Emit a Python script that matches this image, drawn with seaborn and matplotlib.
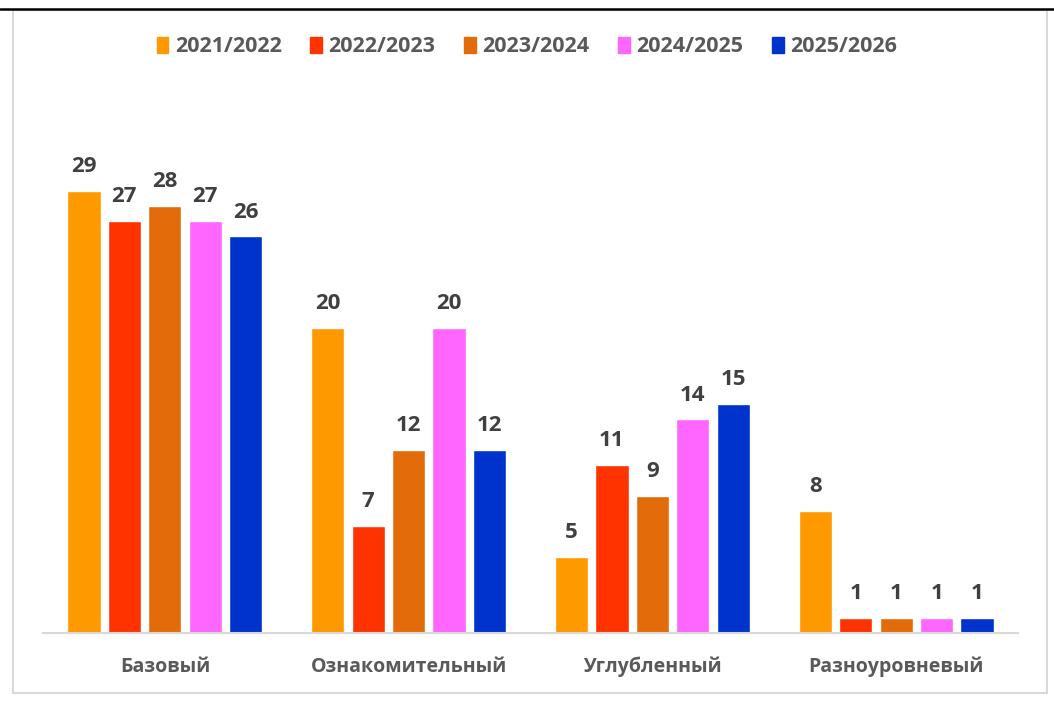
import matplotlib
matplotlib.use("Agg")
import matplotlib.pyplot as plt
import matplotlib.patches as mpatches
import matplotlib.lines as mlines
import seaborn as sns
import pandas as pd

# data
categories = ["Базовый", "Ознакомительный", "Углубленный", "Разноуровневый"]
seasons = ["2021/2022", "2022/2023", "2023/2024", "2024/2025", "2025/2026"]
v_2021 = [29, 20, 5, 8]
v_2022 = [27, 7, 11, 1]
v_2023 = [28, 12, 9, 1]
v_2024 = [27, 20, 14, 1]
v_2025 = [26, 12, 15, 1]
colors = ["#FF9900", "#FF3300", "#E36C0A", "#FF66FF", "#0033CC"]

rows = []
for season, vals in zip(seasons, [v_2021, v_2022, v_2023, v_2024, v_2025]):
    for cat, v in zip(categories, vals):
        rows.append({"cat": cat, "season": season, "val": v})
df = pd.DataFrame(rows)

sns.set_style("white")
plt.rcParams['font.family'] = ['Open Sans', 'DejaVu Sans']

fig = plt.figure(figsize=(10.54, 7.08), dpi=100)
ax = fig.add_axes([43/1054, 1 - 633/708, (1018 - 43)/1054, (633 - 90)/708])

sns.barplot(data=df, x="cat", y="val", hue="season", palette=colors,
            hue_order=seasons, order=categories, width=0.83, gap=0.18,
            saturation=1, legend=False, ax=ax)

for cont in ax.containers:
    ax.bar_label(cont, padding=10, fontsize=16, fontweight="bold", color="#404040")

ax.set_xlim(-0.5, 3.5)
ax.set_ylim(0, 35.6)
ax.set_yticks([])
ax.set_xlabel("")
ax.set_ylabel("")
for s in ["top", "right", "left"]:
    ax.spines[s].set_visible(False)
ax.spines["bottom"].set_color("#D9D9D9")
ax.spines["bottom"].set_linewidth(1.5)
ax.tick_params(axis="x", length=0, pad=17, labelsize=14, labelcolor="#595959")
for lbl in ax.get_xticklabels():
    lbl.set_fontweight("bold")

handles = [mpatches.Patch(color=c, label=s) for c, s in zip(colors, seasons)]
fig.legend(handles=handles, loc="center", bbox_to_anchor=(0.5, 1 - 47/708), ncol=5,
           frameon=False, handlelength=0.55, handleheight=0.7, handletextpad=0.3,
           columnspacing=1.33, prop={"size": 15.5, "weight": "bold"}, labelcolor="#595959")

# outer frame and top rule
fig.add_artist(mpatches.Rectangle((13/1054, 1 - 693/708), (1047 - 13)/1054, (693 - 10)/708,
                                  transform=fig.transFigure, fill=False,
                                  edgecolor="#D9D9D9", linewidth=1.5))
fig.add_artist(mlines.Line2D([0, 1], [1 - 8.5/708, 1 - 8.5/708], transform=fig.transFigure,
                             color="black", linewidth=1.8))

fig.savefig("out.png", dpi=100)
